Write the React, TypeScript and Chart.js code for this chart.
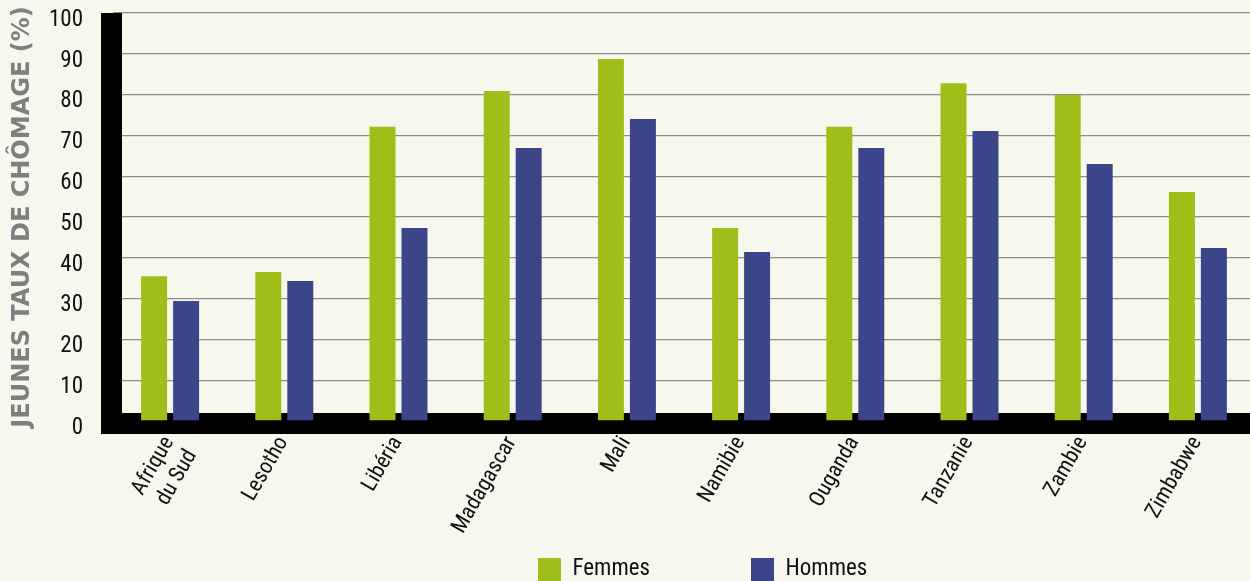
import React, { useEffect, useRef } from 'react';
import { Chart, registerables } from 'chart.js';

Chart.register(...registerables);

const categories: (string | string[])[] = [
  ['Afrique', 'du Sud'],
  'Lesotho',
  'Libéria',
  'Madagascar',
  'Mali',
  'Namibie',
  'Ouganda',
  'Tanzanie',
  'Zambie',
  'Zimbabwe',
];
const femmes = [35.5, 36.5, 72.1, 80.9, 88.7, 47.3, 72.1, 82.8, 79.9, 56.1];
const hommes = [29.4, 34.3, 47.3, 66.9, 74.0, 41.4, 66.9, 71.1, 63.0, 42.4];
const seriesNames = ['Femmes', 'Hommes'];
const yTitle = 'JEUNES TAUX DE CHÔMAGE (%)';

const BG = '#f7f8ed';
const GREEN = '#9fbe19';
const BLUE = '#3c448a';
const NARROW = "'Liberation Sans Narrow', 'Roboto Condensed', 'DejaVu Sans Condensed', sans-serif";

const LEGEND_PAD = 101;
const LEGEND_BOX_TOP = 558;

const bgPlugin = {
  id: 'bg',
  beforeDraw(chart: any) {
    const { ctx, width, height } = chart;
    ctx.save();
    ctx.fillStyle = BG;
    ctx.fillRect(0, 0, width, height);
    ctx.restore();
  },
};

const framePlugin = {
  id: 'frame',
  beforeDatasetsDraw(chart: any) {
    const { ctx, chartArea, width } = chart;
    const y0 = chart.scales.y.getPixelForValue(0);
    const yTop = chart.scales.y.getPixelForValue(100);
    const x0 = chartArea.left - 12;
    ctx.save();
    ctx.fillStyle = '#000';
    ctx.fillRect(x0, yTop, 21, y0 + 13 - yTop);
    ctx.fillRect(x0, y0 - 8, width - x0, 21);
    ctx.restore();
  },
};

const legendFix = {
  id: 'legendFix',
  beforeLayout(chart: any) {
    const lg = chart.legend;
    if (!lg || lg._patched) return;
    const orig = lg.fit;
    lg.fit = function () {
      orig.call(this);
      if (this.isHorizontal()) this.height = 43;
    };
    lg._patched = true;
  },
  afterLayout(chart: any) {
    const lg = chart.legend;
    if (!lg || !lg.lineWidths) return;
    const p = lg.options.labels.padding;
    const startX = (lg.left + p + lg.right - lg.lineWidths[0]) / 2;
    const delta = 538 - startX;
    lg.left += delta;
    lg.right += delta;
    lg.top = LEGEND_BOX_TOP - p;
    lg.bottom = chart.height;
  },
};

export default function App() {
  const ref = useRef<HTMLCanvasElement>(null);

  useEffect(() => {
    if (!ref.current) return;
    const chart = new Chart(ref.current, {
      type: 'bar',
      data: {
        labels: categories,
        datasets: [
          {
            label: seriesNames[0],
            data: femmes,
            backgroundColor: GREEN,
            borderWidth: 0,
            categoryPercentage: 0.56,
            barPercentage: 0.8125,
          },
          {
            label: seriesNames[1],
            data: hommes,
            backgroundColor: BLUE,
            borderWidth: 0,
            categoryPercentage: 0.56,
            barPercentage: 0.8125,
          },
        ],
      },
      options: {
        responsive: false,
        animation: false,
        layout: { padding: { top: 13, right: 3, left: 0, bottom: 0 } },
        plugins: {
          tooltip: { enabled: false },
          legend: {
            position: 'bottom',
            labels: {
              boxWidth: 23,
              boxHeight: 23,
              padding: LEGEND_PAD,
              color: '#111',
              font: { family: NARROW, size: 23 },
            },
          },
        },
        scales: {
          x: {
            grid: { display: false, drawTicks: false },
            border: { display: false },
            ticks: {
              maxRotation: 60,
              minRotation: 60,
              padding: 11,
              labelOffset: -1,
              color: '#111',
              font: { family: NARROW, size: 22 },
              autoSkip: false,
            },
            afterFit: (s: any) => {
              s.height = 127;
              s.paddingLeft = 0;
              s.paddingRight = 0;
            },
          },
          y: {
            min: 0,
            max: 100,
            grid: { color: '#8d8d88', lineWidth: 1.3, drawTicks: false },
            border: { display: false },
            ticks: {
              stepSize: 10,
              padding: 30,
              labelOffset: 7,
              color: '#111',
              font: { family: NARROW, size: 23 },
            },
            title: {
              display: true,
              text: yTitle,
              color: '#7f7f7f',
              padding: { top: 8, bottom: 0 },
              font: { family: "'DejaVu Sans', sans-serif", size: 24, weight: 'bold' },
            },
            afterFit: (s: any) => {
              s.width = 113;
              s.paddingTop = 0;
              s.paddingBottom = 0;
            },
          },
        },
      },
      plugins: [bgPlugin, framePlugin, legendFix],
    });
    return () => chart.destroy();
  }, []);

  return (
    <div
      style={{
        position: 'absolute',
        left: 0,
        top: 0,
        width: 1250,
        height: 581,
        overflow: 'hidden',
        background: BG,
      }}
    >
      <canvas ref={ref} width={1258} height={591} style={{ display: 'block' }} />
    </div>
  );
}
